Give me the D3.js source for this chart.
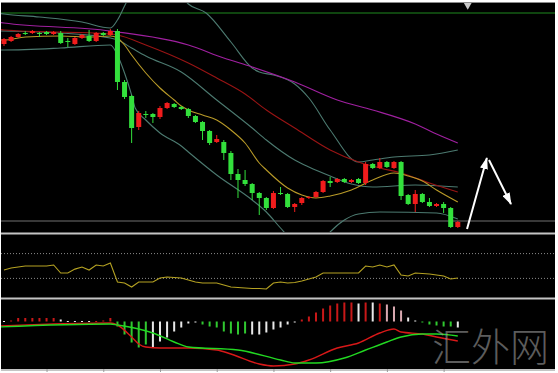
<!DOCTYPE html>
<html>
<head>
<meta charset="utf-8">
<script src="https://cdn.jsdelivr.net/npm/d3@7/dist/d3.min.js"></script>
<style>
  html, body { margin: 0; padding: 0; background: #fff; }
  svg { display: block; }
</style>
</head>
<body>
<div id="container"></div>
<script>
/** CONSTANTS AND GLOBALS */
const width = 558,
  height = 373,
  left = 1,
  right = 555;

// panel boxes (top / bottom)
const mainBox = { top: 3, bottom: 232 },
  oscBox = { top: 235, bottom: 297 },
  macdBox = { top: 300, bottom: 369 };

/** DATA */
// candles, one per bar
const open = [1.1006,1.1009,1.1013,1.1017,1.1017,1.1017,1.1018,1.1016,1.1017,1.1009,1.1006,1.1012,1.1014,1.1009,1.1017,1.1015,1.1019,1.0968,1.0954,1.0923,1.0936,1.0936,1.0933,1.0942,1.0946,1.0943,1.0941,1.0934,1.0928,1.0919,1.0908,1.0908,1.0897,1.0876,1.0870,1.0866,1.0857,1.0852,1.0842,1.0857,1.0856,1.0843,1.0847,1.0852,1.0853,1.0858,1.0869,1.0868,1.0871,1.0868,1.0871,1.0867,1.0886,1.0882,1.0888,1.0882,1.0888,1.0855,1.0846,1.0856,1.0848,1.0844,1.0846,1.0842,1.0823];
const high = [1.1012,1.1014,1.1017,1.1019,1.1020,1.1018,1.1019,1.1019,1.1019,1.1012,1.1013,1.1016,1.1020,1.1018,1.1018,1.1021,1.1021,1.0970,1.0955,1.0939,1.0939,1.0937,1.0944,1.0948,1.0947,1.0944,1.0942,1.0935,1.0929,1.0920,1.0915,1.0910,1.0899,1.0881,1.0880,1.0867,1.0858,1.0853,1.0859,1.0863,1.0857,1.0847,1.0853,1.0854,1.0859,1.0870,1.0873,1.0872,1.0872,1.0871,1.0872,1.0888,1.0887,1.0892,1.0889,1.0889,1.0889,1.0856,1.0860,1.0857,1.0852,1.0847,1.0848,1.0843,1.0829];
const low = [1.1004,1.1008,1.1012,1.1015,1.1016,1.1013,1.1015,1.1015,1.1006,1.1003,1.1005,1.1011,1.1008,1.1008,1.1014,1.1014,1.0960,1.0951,1.0907,1.0920,1.0932,1.0927,1.0931,1.0941,1.0942,1.0940,1.0932,1.0927,1.0910,1.0905,1.0907,1.0890,1.0870,1.0852,1.0864,1.0850,1.0835,1.0840,1.0841,1.0855,1.0842,1.0838,1.0845,1.0851,1.0852,1.0857,1.0863,1.0867,1.0867,1.0867,1.0866,1.0865,1.0881,1.0881,1.0882,1.0881,1.0850,1.0845,1.0838,1.0847,1.0843,1.0843,1.0837,1.0822,1.0822];
const close = [1.1011,1.1013,1.1016,1.1016,1.1019,1.1016,1.1016,1.1018,1.1007,1.1008,1.1012,1.1015,1.1009,1.1017,1.1015,1.1019,1.0968,1.0953,1.0922,1.0937,1.0935,1.0933,1.0942,1.0947,1.0943,1.0941,1.0934,1.0928,1.0919,1.0907,1.0911,1.0897,1.0876,1.0870,1.0866,1.0857,1.0852,1.0842,1.0857,1.0856,1.0843,1.0846,1.0852,1.0853,1.0858,1.0869,1.0867,1.0871,1.0868,1.0870,1.0867,1.0886,1.0882,1.0888,1.0883,1.0888,1.0854,1.0846,1.0856,1.0848,1.0844,1.0846,1.0842,1.0823,1.0828];

// indicator lines read at some bars: [bar, price]
const bbUpper = [[-1,1.1037],[0,1.1036],[5,1.1033],[11,1.1028],[15,1.1022],[16,1.1030],[17,1.1044],[18,1.1058],[20,1.1085],[22,1.1085],[24,1.1066],[25,1.1054],[26,1.1046],[28.5,1.1037],[32,1.1008],[35,1.0982],[36,1.0978],[38,1.0975],[41,1.0966],[43,1.0952],[46,1.0920],[50,1.0888],[52,1.0890],[55,1.0893],[60,1.0895],[64,1.0900]];
const bbMiddle = [[-1,1.1019],[5,1.1018],[10,1.1016],[15,1.1012],[16,1.1010],[18,1.1002],[20,1.0994],[25,1.0978],[30,1.0950],[35,1.0922],[37,1.0910],[41,1.0890],[43,1.0883],[46,1.0874],[49,1.0866],[52,1.0863],[58,1.0865],[64,1.0863]];
const bbLower = [[-1,1.1000],[0,1.1000],[8,1.1002],[15,1.1005],[16,1.0995],[17,1.0977],[18,1.0955],[18.5,1.0942],[20,1.0930],[22,1.0917],[25,1.0904],[26,1.0898],[30,1.0875],[35,1.0850],[37,1.0838],[39,1.0822],[41,1.0807],[43,1.0800],[45,1.0810],[46,1.0818],[48,1.0830],[50,1.0836],[53,1.0838],[61,1.0837],[64,1.0831]];
const maSlow = [[-1,1.1028],[0,1.1027],[15,1.1019],[26,1.1005],[31,1.0992],[35,1.0983],[41,1.0968],[47,1.0950],[52,1.0940],[58,1.0926],[61,1.0916],[64,1.0907]];
const maMid = [[-1,1.1021],[0,1.1020],[15,1.1016],[16,1.1015],[20,1.1005],[26,1.0987],[30,1.0972],[34,1.0956],[37,1.0940],[41,1.0922],[46,1.0900],[50,1.0888],[53,1.0882],[56,1.0877],[60,1.0867],[64,1.0858]];
const maFast = [[-1,1.1010],[0,1.1010],[3,1.1013],[8,1.1014],[12,1.1013],[15,1.1014],[16,1.1012],[17,1.1005],[18,1.0995],[20,1.0977],[22,1.0962],[24,1.0950],[25,1.0944],[26,1.0940],[28,1.0935],[30,1.0930],[32,1.0920],[34,1.0907],[36,1.0887],[37,1.0880],[40,1.0862],[42,1.0855],[44,1.0852],[46,1.0854],[49,1.0860],[52,1.0870],[55,1.0877],[57,1.0874],[59,1.0869],[61,1.0860],[64,1.0848]];

const levelLine = 1.1037;   // green horizontal line
const bidLine = 1.0829;     // gray horizontal line

// oscillator (0-100) with 70 / 30 levels
const osc = [43.5,46.8,48.4,50,50,50,50,51.6,38.7,38.7,45,48.4,43.5,51.6,50,54.8,24.2,22.6,16.1,24.2,24.2,24.2,30.6,32.3,31.5,30.6,27.4,24.2,22.6,22.6,22.6,19.4,16.1,15.3,14.5,13.7,13.7,12.9,22.6,24.2,22.6,23.4,25.8,29,32.3,38.7,38.7,38.7,38.7,38.7,38.7,50,48.4,51.6,48.4,51.6,35.5,33.9,38.7,37.9,37.1,35.5,33.9,29,30.6];
const oscLevels = [70, 30];

// MACD histogram (x 0.0001) and its colour state per bar
const hist = [0.5,1,3.5,3.5,3.5,3.5,3.5,3.5,2,0.5,0.5,0.5,0.5,0.5,1,3.5,-5,-13,-21,-26,-23,-26,-20,-16,-10,-6,-2,-1,-3,-5,-6,-10,-12,-13,-12,-13,-13,-11,-8,-6,-3,-1,2,5,9,13,16,18,19,19,18,19,19,18,17,15,11,4,1,-1,-3,-4,-5,-5,-6];
const histState = "wrrrrrrrwwwwwrrrgggggwwwwwwwgggggggwwwwwwwrrrrrrrrwrwrpppwwgggggw".split("");
const macdRed = [[-1,-0.00045],[7,-0.00025],[15,-0.00015],[16,-0.00035],[18,-0.00155],[19,-0.00225],[20,-0.00255],[22,-0.00265],[26,-0.00265],[30,-0.00285],[32,-0.00325],[36,-0.00425],[38,-0.00445],[41,-0.00425],[43,-0.00385],[47,-0.00265],[50,-0.00215],[53,-0.00115],[55,-0.00075],[56,-0.00105],[59,-0.00125],[61,-0.00155],[64,-0.00195]];
const macdGreen = [[-1,-0.00055],[15,-0.00025],[16,-0.00035],[19,-0.00075],[21,-0.00115],[24,-0.00205],[26,-0.00255],[33,-0.00285],[39,-0.00385],[41,-0.00415],[44,-0.00415],[48,-0.00365],[51,-0.00285],[54,-0.00205],[56,-0.00155],[59,-0.00125],[61,-0.00125],[64,-0.00145]];

// hand-drawn arrows: [bar, price]
const arrowUp = [[65.3, 1.0821], [68.1, 1.0892]];
const arrowDown = [[68.4, 1.0890], [71.5, 1.0846]];
const shiftBar = 65.4;
const timeTicks = [6, 14, 22, 30, 38, 46, 54, 62];

let svg;

init();

/** INITIALIZING FUNCTION */
function init() {
  svg = d3.select("#container")
    .append("svg")
    .attr("width", width)
    .attr("height", height);

  svg.append("rect")
    .attr("x", left).attr("y", 2)
    .attr("width", right - left).attr("height", 369)
    .attr("fill", "#000");

  const x = d3.scaleLinear().domain([0, 64]).range([4, 457.8]);
  const y = d3.scaleLinear().domain([1.1050, 1.0820]).range([0, 230]);
  const yOsc = d3.scaleLinear().domain([0, 100]).range([oscBox.bottom, oscBox.top]);
  const yMacd = d3.scaleLinear().domain([-0.00485, 0.00215]).range([370, 300]);

  const defs = svg.append("defs");
  [["clipMain", mainBox], ["clipOsc", oscBox], ["clipMacd", macdBox]].forEach(([id, b]) => {
    defs.append("clipPath").attr("id", id)
      .append("rect")
      .attr("x", left).attr("y", b.top)
      .attr("width", right - left).attr("height", b.bottom - b.top);
  });
  defs.append("marker")
    .attr("id", "head")
    .attr("markerUnits", "userSpaceOnUse")
    .attr("viewBox", "0 0 12 8")
    .attr("refX", 11).attr("refY", 4)
    .attr("markerWidth", 12).attr("markerHeight", 8)
    .attr("orient", "auto")
    .append("path")
    .attr("d", "M0,0 L12,4 L0,8 Z")
    .attr("fill", "#fff");

  /* ---- main panel ---- */
  const main = svg.append("g").attr("clip-path", "url(#clipMain)");

  main.append("line")
    .attr("x1", left).attr("x2", right)
    .attr("y1", y(levelLine)).attr("y2", y(levelLine))
    .attr("stroke", "#1f8a1f").attr("stroke-width", 1.2);
  main.append("line")
    .attr("x1", left).attr("x2", right)
    .attr("y1", y(bidLine)).attr("y2", y(bidLine))
    .attr("stroke", "#707070").attr("stroke-width", 1.2);

  const priceLine = d3.line()
    .x(d => x(d[0]))
    .y(d => y(d[1]))
    .curve(d3.curveMonotoneX);

  const lines = [
    [bbUpper, "#4c7a70"], [bbMiddle, "#4c7a70"], [bbLower, "#4c7a70"],
    [maSlow, "#a020a0"], [maMid, "#9a1414"], [maFast, "#b89a28"]
  ];
  main.selectAll(".ind")
    .data(lines)
    .join("path")
    .attr("class", "ind")
    .attr("d", d => priceLine(d[0]))
    .attr("fill", "none")
    .attr("stroke", d => d[1])
    .attr("stroke-width", 1.1);

  const bars = d3.range(open.length).map(i => ({
    i, o: open[i], h: high[i], l: low[i], c: close[i]
  }));
  const col = d => d.c >= d.o ? "#f01c1c" : "#33e03c";

  const candle = main.selectAll(".candle")
    .data(bars)
    .join("g")
    .attr("class", "candle");
  candle.append("line")
    .attr("x1", d => x(d.i)).attr("x2", d => x(d.i))
    .attr("y1", d => y(d.h)).attr("y2", d => y(d.l))
    .attr("stroke", col).attr("stroke-width", 1);
  candle.append("rect")
    .attr("x", d => x(d.i) - 2.5)
    .attr("width", 5)
    .attr("y", d => y(Math.max(d.o, d.c)))
    .attr("height", d => Math.max(1, Math.abs(y(d.o) - y(d.c))))
    .attr("fill", col);

  // arrows
  const arrowLine = d3.line().x(d => x(d[0])).y(d => y(d[1]));
  main.selectAll(".arrow")
    .data([arrowUp, arrowDown])
    .join("path")
    .attr("class", "arrow")
    .attr("d", arrowLine)
    .attr("stroke", "#fff")
    .attr("stroke-width", 2)
    .attr("marker-end", "url(#head)");

  // chart shift marker
  svg.append("path")
    .attr("d", d3.symbol(d3.symbolTriangle, 30)())
    .attr("transform", `translate(${x(shiftBar)},5) rotate(180)`)
    .attr("fill", "#c8c8c8");

  /* ---- oscillator ---- */
  const oscG = svg.append("g").attr("clip-path", "url(#clipOsc)");
  oscG.selectAll(".lvl")
    .data(oscLevels)
    .join("line")
    .attr("class", "lvl")
    .attr("x1", left).attr("x2", right)
    .attr("y1", d => yOsc(d)).attr("y2", d => yOsc(d))
    .attr("stroke", "#8a8a8a")
    .attr("stroke-dasharray", "1,2");
  oscG.append("path")
    .datum(osc)
    .attr("d", d3.line().x((d, i) => x(i)).y(d => yOsc(d)))
    .attr("fill", "none")
    .attr("stroke", "#b5a222")
    .attr("stroke-width", 1.1);

  /* ---- MACD ---- */
  const macdG = svg.append("g").attr("clip-path", "url(#clipMacd)");
  const histColor = { r: "#c81818", g: "#30c830", w: "#e8e8e8", p: "#d8a8b0" };
  macdG.selectAll(".hist")
    .data(hist)
    .join("rect")
    .attr("class", "hist")
    .attr("x", (d, i) => x(i) - 1)
    .attr("width", 2)
    .attr("y", d => yMacd(Math.max(0, d * 0.0001)))
    .attr("height", d => Math.max(1, Math.abs(yMacd(d * 0.0001) - yMacd(0))))
    .attr("fill", (d, i) => histColor[histState[i]]);

  const macdLine = d3.line()
    .x(d => x(d[0]))
    .y(d => yMacd(d[1]))
    .curve(d3.curveMonotoneX);
  macdG.append("path").attr("d", macdLine(macdRed))
    .attr("fill", "none").attr("stroke", "#d81818").attr("stroke-width", 1.4);
  macdG.append("path").attr("d", macdLine(macdGreen))
    .attr("fill", "none").attr("stroke", "#22d822").attr("stroke-width", 1.4);

  /* ---- frame ---- */
  svg.append("line")
    .attr("x1", left).attr("x2", right).attr("y1", 2.5).attr("y2", 2.5)
    .attr("stroke", "#8a8a8a");
  [233.5, 298.5, 370].forEach(v => {
    svg.append("line")
      .attr("x1", left).attr("x2", right)
      .attr("y1", v).attr("y2", v)
      .attr("stroke", "#c4c4c4").attr("stroke-width", 2);
  });

  const axis = d3.axisBottom(x)
    .tickValues(timeTicks)
    .tickFormat("")
    .tickSize(3);
  svg.append("g")
    .attr("transform", "translate(0,369)")
    .call(axis)
    .call(g => g.select(".domain").remove())
    .call(g => g.selectAll("line").attr("stroke", "#9a9a9a"));

  // watermark
  svg.append("text")
    .attr("x", 549).attr("y", 361)
    .attr("text-anchor", "end")
    .attr("font-family", "'Noto Sans CJK SC', sans-serif")
    .attr("font-weight", 300)
    .attr("font-size", 39)
    .attr("fill", "#9a9a9a")
    .attr("opacity", 0.6)
    .text("汇外网");
}
</script>
</body>
</html>
